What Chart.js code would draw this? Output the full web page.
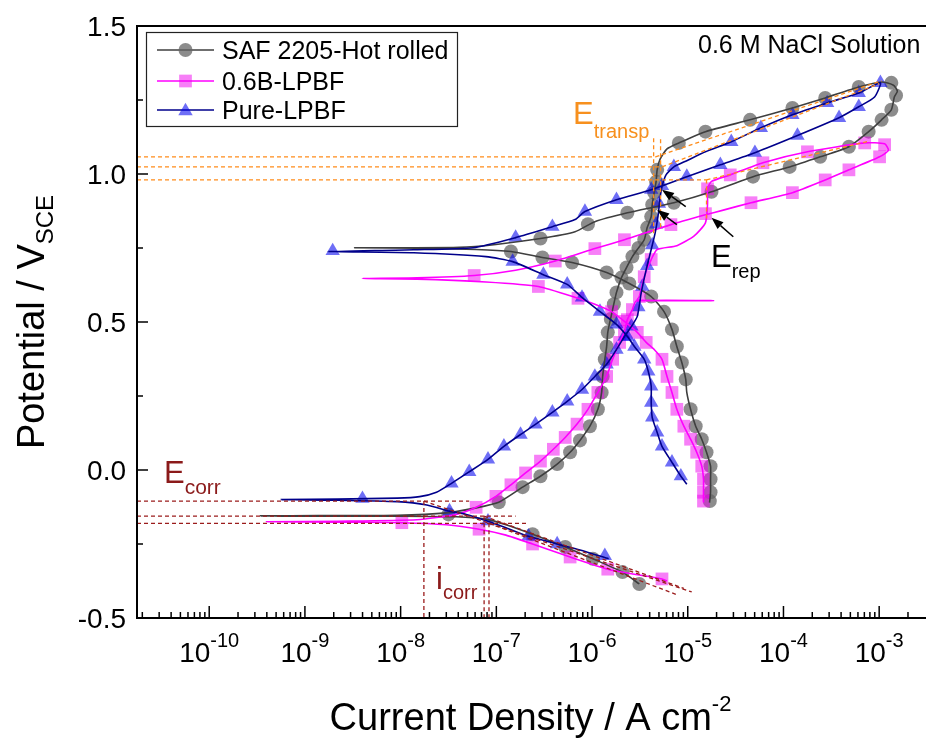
<!DOCTYPE html>
<html>
<head>
<meta charset="utf-8">
<script src="https://cdn.jsdelivr.net/npm/chart.js@4.4.1/dist/chart.umd.min.js"></script>
<style>
  html, body { margin: 0; padding: 0; background: #ffffff; }
  canvas { display: block; }
</style>
</head>
<body>
<canvas id="chart" width="933" height="738"></canvas>
<script>
// ---------- axes ----------
const xRange = [1.76e-11, 2.94e-3];          // current density, A cm^-2 (log)
const yRange = [-0.5, 1.5];                  // potential, V vs SCE
const xTickExps = [-10, -9, -8, -7, -6, -5, -4, -3];
const yTicks = [-0.5, 0.0, 0.5, 1.0, 1.5];

const seriesNames = ['SAF 2205-Hot rolled', '0.6B-LPBF', 'Pure-LPBF'];

// ---------- SAF 2205 hot rolled (cyclic scan path) ----------
const hotI = [3.12e-6, 2.08e-6, 1.02e-6, 5.24e-7, 2.39e-7, 1.26e-7, 7.8e-8, 3.83e-8, 9.2e-9, 1.37e-9, 3.44e-10,
  1.37e-9, 9.2e-9, 3.01e-8, 6.15e-8, 1.06e-7, 1.88e-7, 2.89e-7, 4.32e-7, 5.9e-7, 7.48e-7, 9.5e-7, 1.15e-6, 1.26e-6,
  1.29e-6, 1.36e-6, 1.42e-6, 1.46e-6, 1.53e-6, 1.64e-6, 1.80e-6, 2.03e-6, 2.29e-6, 2.64e-6, 2.97e-6, 3.51e-6, 3.77e-6,
  4.15e-6, 4.25e-6, 4.46e-6, 4.67e-6, 4.79e-6, 5.14e-6, 6.07e-6, 8.07e-6, 1.53e-5, 4.48e-5, 1.24e-4, 2.73e-4, 6.12e-4,
  1.06e-3, 1.41e-3, 1.55e-3,
  1.44e-3, 1.34e-3, 1.06e-3, 7.76e-4, 4.83e-4, 2.42e-4, 1.16e-4, 4.81e-5, 1.77e-5, 7.16e-6, 2.34e-6, 1.07e-6, 6.64e-7,
  2.89e-7, 9.9e-8, 4.11e-8, 9.2e-9, 3.31e-9,
  1.48e-8, 6.15e-8, 1.42e-7, 3.03e-7, 6.18e-7, 1.42e-6, 2.45e-6, 4.15e-6, 5.65e-6, 6.84e-6, 7.69e-6, 8.67e-6, 9.53e-6,
  9.77e-6, 1.07e-5, 1.21e-5, 1.40e-5, 1.57e-5, 1.73e-5, 1.73e-5, 1.73e-5, 1.69e-5];
const hotE = [-0.385, -0.345, -0.300, -0.260, -0.217, -0.185, -0.166, -0.158, -0.156, -0.156, -0.155,
  -0.154, -0.153, -0.145, -0.128, -0.109, -0.058, -0.021, 0.020, 0.060, 0.100, 0.148, 0.205, 0.262,
  0.316, 0.374, 0.417, 0.465, 0.498, 0.542, 0.600, 0.650, 0.684, 0.721, 0.745, 0.778, 0.819,
  0.856, 0.896, 0.937, 0.974, 1.014, 1.050, 1.085, 1.105, 1.143, 1.183, 1.223, 1.257, 1.294,
  1.311, 1.300, 1.280,
  1.260, 1.217, 1.183, 1.143, 1.092, 1.058, 1.024, 0.991, 0.940, 0.903, 0.869, 0.839, 0.805,
  0.782, 0.762, 0.752, 0.751, 0.751,
  0.749, 0.745, 0.738, 0.718, 0.701, 0.667, 0.630, 0.586, 0.535, 0.475, 0.417, 0.363, 0.306,
  0.262, 0.205, 0.148, 0.104, 0.060, 0.013, -0.031, -0.075, -0.110];
const hotMarkI = [3.12e-6, 2.08e-6, 1.02e-6, 5.24e-7, 2.39e-7, 3.16e-8,
  1.06e-7, 1.88e-7, 2.89e-7, 4.32e-7, 5.9e-7, 7.48e-7, 9.5e-7, 1.15e-6, 1.26e-6, 1.29e-6, 1.36e-6, 1.42e-6, 1.46e-6,
  1.57e-6, 1.69e-6, 1.80e-6, 2.03e-6, 2.29e-6, 2.64e-6, 3.05e-6, 3.51e-6, 3.77e-6, 4.15e-6, 4.25e-6, 4.46e-6, 4.67e-6, 4.79e-6,
  8.07e-6, 1.53e-5, 4.48e-5, 1.24e-4, 2.73e-4, 6.12e-4, 1.34e-3, 1.50e-3,
  1.34e-3, 1.06e-3, 7.76e-4, 4.83e-4, 2.42e-4, 1.16e-4, 4.81e-5, 1.77e-5, 7.16e-6, 2.34e-6, 9.06e-7, 2.89e-7,
  1.42e-7, 3.03e-7, 6.18e-7, 1.42e-6, 2.45e-6, 4.15e-6, 5.65e-6, 6.84e-6, 7.69e-6, 8.67e-6, 9.53e-6, 1.07e-5,
  1.21e-5, 1.40e-5, 1.57e-5, 1.73e-5, 1.73e-5, 1.73e-5, 1.70e-5];
const hotMarkE = [-0.385, -0.345, -0.300, -0.260, -0.217, -0.150,
  -0.109, -0.058, -0.021, 0.020, 0.060, 0.100, 0.148, 0.205, 0.262, 0.316, 0.374, 0.417, 0.465,
  0.510, 0.560, 0.600, 0.650, 0.684, 0.721, 0.750, 0.778, 0.819, 0.856, 0.896, 0.937, 0.974, 1.014,
  1.105, 1.143, 1.183, 1.223, 1.257, 1.294, 1.308, 1.265,
  1.217, 1.183, 1.143, 1.092, 1.058, 1.024, 0.991, 0.940, 0.903, 0.869, 0.830, 0.782,
  0.738, 0.718, 0.701, 0.667, 0.630, 0.586, 0.535, 0.475, 0.417, 0.363, 0.306, 0.205,
  0.148, 0.104, 0.060, 0.013, -0.031, -0.075, -0.105];

// ---------- 0.6B-LPBF ----------
const borI = [6.07e-6, 5.38e-6, 2.77e-6, 1.46e-6, 5.9e-7, 2.39e-7, 1.26e-7, 6.6e-8, 3.01e-8, 1.03e-8, 2.2e-9, 3.97e-10,
  2.2e-9, 1.48e-8, 3.83e-8, 6.15e-8, 9.9e-8, 1.42e-7, 2.02e-7, 2.89e-7, 3.94e-7, 5.24e-7, 6.97e-7, 9.06e-7, 1.15e-6,
  1.42e-6, 1.64e-6, 1.94e-6, 2.18e-6, 2.34e-6, 2.64e-6, 2.90e-6, 1.86e-5, 2.97e-6, 3.12e-6, 3.51e-6, 4.15e-6, 4.79e-6,
  7.69e-6, 1.16e-5, 1.53e-5, 1.61e-5, 1.61e-5, 1.77e-5, 2.78e-5, 6.10e-5, 1.78e-4, 7.06e-4, 1.14e-3, 1.25e-3,
  1.01e-3, 4.83e-4, 2.73e-4, 1.24e-4, 4.58e-5, 2.35e-5, 1.53e-5, 6.67e-6, 2.18e-6, 1.07e-6, 4.13e-7, 1.59e-7, 5.87e-8,
  1.48e-8, 3.99e-9,
  1.48e-8, 7.8e-8, 2.75e-7, 7.13e-7, 1.07e-6, 1.60e-6, 2.18e-6, 2.97e-6, 3.68e-6, 4.46e-6, 5.38e-6, 6.07e-6, 6.84e-6,
  7.69e-6, 9.1e-6, 1.07e-5, 1.24e-5, 1.40e-5, 1.46e-5, 1.46e-5, 1.46e-5];
const borE = [-0.375, -0.368, -0.352, -0.335, -0.294, -0.250, -0.220, -0.200, -0.185, -0.178, -0.176, -0.175,
  -0.173, -0.168, -0.150, -0.126, -0.089, -0.050, -0.010, 0.030, 0.070, 0.110, 0.155, 0.205, 0.262,
  0.316, 0.374, 0.431, 0.468, 0.508, 0.542, 0.571, 0.572, 0.574, 0.586, 0.653, 0.711, 0.745,
  0.758, 0.790, 0.835, 0.900, 0.950, 0.975, 0.997, 1.038, 1.075, 1.105, 1.102, 1.080,
  1.058, 1.014, 0.980, 0.937, 0.903, 0.878, 0.862, 0.829, 0.778, 0.748, 0.706, 0.675, 0.657,
  0.649, 0.647,
  0.645, 0.635, 0.620, 0.580, 0.560, 0.535, 0.502, 0.465, 0.431, 0.407, 0.374, 0.316, 0.262,
  0.205, 0.148, 0.104, 0.060, 0.013, -0.031, -0.075, -0.110];
const borMarkI = [5.38e-6, 1.46e-6, 5.9e-7, 2.39e-7, 6.6e-8, 1.03e-8,
  6.15e-8, 9.9e-8, 1.42e-7, 2.02e-7, 2.89e-7, 3.94e-7, 5.24e-7, 6.97e-7, 9.06e-7, 1.15e-6, 1.42e-6, 1.64e-6, 1.94e-6,
  2.18e-6, 2.34e-6, 2.64e-6, 3.12e-6, 3.51e-6, 4.15e-6,
  1.61e-5, 2.78e-5, 6.10e-5, 1.78e-4, 7.06e-4, 1.14e-3,
  1.01e-3, 4.83e-4, 2.73e-4, 1.24e-4, 4.58e-5, 1.53e-5, 6.67e-6, 2.18e-6, 1.07e-6, 4.13e-7, 5.87e-8,
  2.75e-7, 7.13e-7, 1.60e-6, 2.18e-6, 2.97e-6, 3.68e-6, 5.38e-6, 6.07e-6, 6.84e-6, 7.69e-6, 9.1e-6, 1.07e-5,
  1.24e-5, 1.40e-5, 1.46e-5, 1.46e-5, 1.46e-5];
const borMarkE = [-0.368, -0.335, -0.294, -0.250, -0.200, -0.178,
  -0.126, -0.089, -0.050, -0.010, 0.030, 0.070, 0.110, 0.155, 0.205, 0.262, 0.316, 0.374, 0.431,
  0.468, 0.508, 0.542, 0.586, 0.653, 0.711,
  0.950, 0.997, 1.038, 1.075, 1.105, 1.099,
  1.058, 1.014, 0.980, 0.937, 0.903, 0.866, 0.829, 0.778, 0.748, 0.706, 0.657,
  0.620, 0.580, 0.535, 0.502, 0.465, 0.431, 0.374, 0.316, 0.262, 0.205, 0.148, 0.104,
  0.060, 0.013, -0.031, -0.075, -0.105];

// ---------- Pure-LPBF ----------
const pureI = [1.49e-6, 7.48e-7, 4.32e-7, 2.17e-7, 1.26e-7, 8.18e-8, 4.85e-8, 3.24e-8, 1.88e-8, 9.2e-9, 2.2e-9, 5.67e-10,
  2.2e-9, 9.2e-9, 1.58e-8, 2.37e-8, 3.40e-8, 5.21e-8, 8.18e-8, 1.20e-7, 1.79e-7, 2.56e-7, 3.85e-7, 5.50e-7, 7.85e-7,
  1.07e-6, 1.42e-6, 1.80e-6, 2.18e-6, 2.58e-6, 2.97e-6, 3.27e-6, 3.68e-6, 4.15e-6, 4.56e-6, 4.90e-6, 5.14e-6, 5.38e-6,
  5.93e-6, 7.16e-6, 9.77e-6, 1.53e-5, 2.85e-5, 5.81e-5, 1.24e-4, 2.86e-4, 6.12e-4, 1.03e-3,
  8.95e-4, 6.12e-4, 3.81e-4, 1.40e-4, 5.03e-5, 2.19e-5, 9.77e-6, 4.15e-6, 1.80e-6, 8.43e-7, 6.64e-7, 3.85e-7, 1.59e-7,
  5.73e-8, 1.37e-8, 1.74e-9,
  1.37e-8, 7.8e-8, 1.48e-7, 3.10e-7, 5.50e-7, 7.85e-7, 1.21e-6, 1.80e-6, 2.34e-6, 2.77e-6, 3.51e-6, 3.87e-6, 4.15e-6,
  4.15e-6, 4.25e-6, 4.79e-6, 5.38e-6, 6.84e-6, 8.47e-6, 9.77e-6];
const pureE = [-0.300, -0.270, -0.250, -0.224, -0.195, -0.173, -0.150, -0.139, -0.118, -0.107, -0.102, -0.100,
  -0.098, -0.095, -0.090, -0.075, -0.045, -0.006, 0.036, 0.080, 0.120, 0.154, 0.195, 0.232, 0.272,
  0.316, 0.357, 0.407, 0.451, 0.485, 0.519, 0.600, 0.677, 0.745, 0.800, 0.860, 0.920, 0.957,
  0.997, 1.024, 1.045, 1.075, 1.109, 1.156, 1.200, 1.240, 1.274, 1.308,
  1.260, 1.227, 1.190, 1.130, 1.072, 1.031, 0.991, 0.947, 0.913, 0.873, 0.846, 0.822, 0.785,
  0.751, 0.744, 0.738,
  0.734, 0.721, 0.704, 0.660, 0.627, 0.583, 0.535, 0.492, 0.451, 0.417, 0.374, 0.333, 0.283,
  0.228, 0.178, 0.127, 0.080, 0.026, -0.021, -0.048];
const pureMarkI = [1.36e-6, 4.32e-7, 2.17e-7, 8.18e-8, 3.24e-8, 3.99e-9,
  3.40e-8, 5.21e-8, 8.18e-8, 1.20e-7, 1.79e-7, 2.56e-7, 3.85e-7, 5.50e-7, 7.85e-7, 1.07e-6, 1.42e-6, 1.80e-6, 2.18e-6, 2.58e-6,
  3.05e-6, 3.35e-6, 3.77e-6, 4.25e-6, 4.67e-6, 5.0e-6, 5.38e-6,
  7.16e-6, 2.85e-5, 5.81e-5, 1.24e-4, 2.86e-4, 6.12e-4, 1.03e-3,
  6.12e-4, 3.81e-4, 1.40e-4, 5.03e-5, 2.19e-5, 9.77e-6, 4.15e-6, 1.80e-6, 8.43e-7, 3.85e-7, 1.59e-7, 1.95e-9,
  1.48e-7, 3.10e-7, 5.50e-7, 7.85e-7, 1.21e-6, 1.80e-6, 2.34e-6, 2.77e-6, 3.51e-6, 3.87e-6, 4.15e-6, 4.15e-6,
  4.25e-6, 4.79e-6, 5.38e-6, 6.84e-6, 8.47e-6];
const pureMarkE = [-0.290, -0.250, -0.224, -0.173, -0.139, -0.097,
  -0.045, -0.006, 0.036, 0.080, 0.120, 0.154, 0.195, 0.232, 0.272, 0.316, 0.357, 0.407, 0.451, 0.485,
  0.550, 0.620, 0.690, 0.760, 0.830, 0.900, 0.960,
  1.024, 1.109, 1.156, 1.200, 1.240, 1.274, 1.308,
  1.227, 1.190, 1.130, 1.072, 1.031, 0.991, 0.947, 0.913, 0.873, 0.822, 0.785, 0.740,
  0.704, 0.660, 0.627, 0.583, 0.535, 0.492, 0.451, 0.417, 0.374, 0.333, 0.283, 0.228,
  0.178, 0.127, 0.080, 0.026, -0.021];

// ---------- Tafel / E_corr construction (order: hot rolled, 0.6B, pure) ----------
const ecorrLevels = [-0.156, -0.180, -0.105];
const icorrValues = [7.45e-8, 8.38e-8, 1.75e-8];
const ecorrGuideEnd = [1.59e-7, 2.17e-7, 5.2e-8];
const tafelEndI = [9.1e-6, 7.5e-6, 1.10e-5];
const tafelEndE = [-0.400, -0.420, -0.412];

// ---------- E_transp construction ----------
const etranspLevels = [1.058, 0.980, 1.024];
const etranspKneeI = [4.6e-6, 1.57e-5, 5.4e-6];
const transpEndI = [1.06e-3, 7.6e-4, 1.0e-3];
const transpEndE = [1.315, 1.110, 1.305];
const passiveGuideI = [4.4e-6, 1.57e-5, 5.2e-6];
const passiveGuideLo = [0.80, 0.85, 0.82];
const passiveGuideHi = [1.13, 0.99, 1.12];

// ---------- E_rep arrows ----------
const erepTipI = [4.79e-6, 1.77e-5, 5.38e-6];
const erepTipE = [0.879, 0.852, 0.947];
const erepTailI = [7.69e-6, 2.99e-5, 9.53e-6];
const erepTailE = [0.829, 0.788, 0.890];

// ---------- building datasets ----------
const FONT = '"Liberation Sans", Arial, Helvetica, sans-serif';
const pts = (xs, ys) => xs.map((v, i) => ({ x: v, y: ys[i] }));
const seg = (x0, y0, x1, y1) => [{ x: x0, y: y0 }, { x: x1, y: y1 }];

const styles = [
  { line: '#3f3f3f', fill: 'rgba(100,100,100,0.74)', shape: 'circle', r: 7 },
  { line: '#ff00ff', fill: 'rgba(240,0,240,0.5)', shape: 'rect', r: 9 },
  { line: '#00008b', fill: 'rgba(0,0,240,0.57)', shape: 'triangle', r: 8.3 }
];

const paths = [[hotI, hotE], [borI, borE], [pureI, pureE]];
const marks = [[hotMarkI, hotMarkE], [borMarkI, borMarkE], [pureMarkI, pureMarkE]];

const datasets = [];
// symbols underneath, connecting lines above them
[0, 1, 2].forEach(k => {
  datasets.push({
    label: seriesNames[k] + ' symbols',
    data: pts(marks[k][0], marks[k][1]),
    showLine: false,
    pointStyle: styles[k].shape,
    pointRadius: styles[k].r,
    pointBackgroundColor: styles[k].fill,
    pointBorderWidth: 0,
    pointBorderColor: 'rgba(0,0,0,0)',
    order: 9 - k
  });
});
[0, 1, 2].forEach(k => {
  datasets.push({
    label: seriesNames[k],
    data: pts(paths[k][0], paths[k][1]),
    showLine: true,
    borderColor: styles[k].line,
    borderWidth: 1.6,
    pointRadius: 0,
    tension: 0.2,
    fill: false,
    order: 6 - k
  });
});

const guide = (data, color) => ({
  data, showLine: true, borderColor: color, borderWidth: 1.3, borderDash: [4, 3],
  pointRadius: 0, tension: 0, fill: false, order: 0
});
const BROWN = '#9b1c1c';
const ORANGE = '#ff8c1a';
[0, 1, 2].forEach(k => {
  datasets.push(guide(seg(xRange[0], ecorrLevels[k], ecorrGuideEnd[k], ecorrLevels[k]), BROWN));
  datasets.push(guide(seg(icorrValues[k], ecorrLevels[k], icorrValues[k], yRange[0]), BROWN));
  datasets.push(guide(seg(icorrValues[k], ecorrLevels[k], tafelEndI[k], tafelEndE[k]), BROWN));
  datasets.push(guide(seg(xRange[0], etranspLevels[k], etranspKneeI[k], etranspLevels[k]), ORANGE));
  datasets.push(guide(seg(passiveGuideI[k], passiveGuideLo[k], passiveGuideI[k], passiveGuideHi[k]), ORANGE));
  datasets.push(guide(seg(etranspKneeI[k], etranspLevels[k], transpEndI[k], transpEndE[k]), ORANGE));
});

// ---------- drawing helpers ----------
function richText(ctx, parts, x, y, align) {
  let total = 0;
  parts.forEach(p => {
    ctx.font = p.size + 'px ' + FONT;
    p.w = ctx.measureText(p.t).width;
    total += p.w;
  });
  let cx = align === 'center' ? x - total / 2 : (align === 'right' ? x - total : x);
  ctx.textAlign = 'left';
  ctx.textBaseline = 'alphabetic';
  parts.forEach(p => {
    ctx.font = p.size + 'px ' + FONT;
    ctx.fillText(p.t, cx, y + (p.dy || 0));
    cx += p.w;
  });
}

function drawMarker(ctx, shape, x, y, r) {
  ctx.beginPath();
  if (shape === 'circle') {
    ctx.arc(x, y, r, 0, Math.PI * 2);
  } else if (shape === 'rect') {
    const s = r * Math.SQRT1_2;
    ctx.rect(x - s, y - s, 2 * s, 2 * s);
  } else {
    ctx.moveTo(x, y - r);
    ctx.lineTo(x + r * 0.866, y + r / 2);
    ctx.lineTo(x - r * 0.866, y + r / 2);
    ctx.closePath();
  }
  ctx.fill();
}

const decor = {
  id: 'decor',
  afterDraw(chart) {
    const { ctx, chartArea: a, scales: { x, y } } = chart;
    ctx.save();

    // frame
    ctx.strokeStyle = '#000';
    ctx.lineWidth = 2;
    ctx.beginPath();
    ctx.moveTo(a.right + 2, a.top);
    ctx.lineTo(a.left, a.top);
    ctx.lineTo(a.left, a.bottom);
    ctx.lineTo(a.right + 2, a.bottom);
    ctx.stroke();

    // inward ticks
    ctx.lineWidth = 1.5;
    const tick = (x0, y0, x1, y1) => { ctx.beginPath(); ctx.moveTo(x0, y0); ctx.lineTo(x1, y1); ctx.stroke(); };
    yTicks.forEach((v, i) => {
      const py = y.getPixelForValue(v);
      tick(a.left, py, a.left + 11, py);
      if (i < yTicks.length - 1) {
        const pm = y.getPixelForValue((v + yTicks[i + 1]) / 2);
        tick(a.left, pm, a.left + 6, pm);
      }
    });
    const n0 = Math.floor(Math.log10(xRange[0])), n1 = Math.ceil(Math.log10(xRange[1]));
    for (let n = n0; n <= n1; n++) {
      for (let k = 1; k <= 9; k++) {
        const v = k * Math.pow(10, n);
        if (v < xRange[0] || v > xRange[1]) continue;
        const px = x.getPixelForValue(v);
        tick(px, a.bottom, px, a.bottom - (k === 1 ? 12 : 6));
      }
    }

    // tick labels
    ctx.fillStyle = '#000';
    yTicks.forEach(v => {
      const py = y.getPixelForValue(v);
      richText(ctx, [{ t: v.toFixed(1), size: 28 }], a.left - 11, py + 10, 'right');
    });
    xTickExps.forEach(e => {
      const px = x.getPixelForValue(Math.pow(10, e));
      richText(ctx, [{ t: '10', size: 28 }, { t: String(e), size: 20, dy: -15 }], px, a.bottom + 44, 'center');
    });

    // axis titles
    richText(ctx, [{ t: 'Current Density / A cm', size: 38 }, { t: '-2', size: 22, dy: -19 }],
      (a.left + a.right) / 2, 730, 'center');
    ctx.save();
    ctx.translate(44, (a.top + a.bottom) / 2);
    ctx.rotate(-Math.PI / 2);
    richText(ctx, [{ t: 'Potential / V', size: 38 }, { t: 'SCE', size: 24, dy: 9 }], 0, 0, 'center');
    ctx.restore();

    // legend
    ctx.fillStyle = '#fff';
    ctx.fillRect(146.5, 32.5, 311, 94);
    ctx.strokeStyle = '#222';
    ctx.lineWidth = 1.2;
    ctx.strokeRect(146.5, 32.5, 311, 94);
    const rows = [50, 81, 110];
    [0, 1, 2].forEach(k => {
      const ry = rows[k];
      ctx.strokeStyle = styles[k].line;
      ctx.lineWidth = 1.6;
      ctx.beginPath(); ctx.moveTo(157, ry); ctx.lineTo(214, ry); ctx.stroke();
      ctx.fillStyle = styles[k].fill;
      drawMarker(ctx, styles[k].shape, 185.5, ry + (styles[k].shape === 'triangle' ? 1 : 0), styles[k].r);
      ctx.fillStyle = '#000';
      richText(ctx, [{ t: seriesNames[k], size: 25 }], 222, ry + 9, 'left');
    });

    // solution label
    ctx.fillStyle = '#000';
    richText(ctx, [{ t: '0.6 M NaCl Solution', size: 25 }], 698, 53, 'left');

    // E_rep arrows
    ctx.strokeStyle = '#000';
    ctx.fillStyle = '#000';
    ctx.lineWidth = 1.5;
    erepTipI.forEach((ti, k) => {
      const x1 = x.getPixelForValue(ti), y1 = y.getPixelForValue(erepTipE[k]);
      const x0 = x.getPixelForValue(erepTailI[k]), y0 = y.getPixelForValue(erepTailE[k]);
      const ang = Math.atan2(y1 - y0, x1 - x0);
      const hl = 12, hw = 4.5;
      const bx = x1 - hl * Math.cos(ang), by = y1 - hl * Math.sin(ang);
      ctx.beginPath(); ctx.moveTo(x0, y0); ctx.lineTo(bx, by); ctx.stroke();
      ctx.beginPath();
      ctx.moveTo(x1, y1);
      ctx.lineTo(bx + hw * Math.sin(ang), by - hw * Math.cos(ang));
      ctx.lineTo(bx - hw * Math.sin(ang), by + hw * Math.cos(ang));
      ctx.closePath();
      ctx.fill();
    });

    // annotation labels
    ctx.fillStyle = '#000';
    richText(ctx, [{ t: 'E', size: 31 }, { t: 'rep', size: 20, dy: 11 }], 711, 267, 'left');
    ctx.fillStyle = '#f7901e';
    richText(ctx, [{ t: 'E', size: 31 }, { t: 'transp', size: 20, dy: 14 }], 573, 124, 'left');
    ctx.fillStyle = '#8b1a1a';
    richText(ctx, [{ t: 'E', size: 31 }, { t: 'corr', size: 21, dy: 11 }], 164, 483, 'left');
    richText(ctx, [{ t: 'i', size: 31 }, { t: 'corr', size: 20, dy: 10 }], 436, 589, 'left');

    ctx.restore();
  }
};

new Chart(document.getElementById('chart'), {
  type: 'scatter',
  data: { datasets },
  options: {
    responsive: false,
    animation: false,
    devicePixelRatio: 1,
    events: [],
    layout: { padding: { left: 137, right: 0, top: 26, bottom: 120 } },
    scales: {
      x: { type: 'logarithmic', min: xRange[0], max: xRange[1], display: false },
      y: { type: 'linear', min: yRange[0], max: yRange[1], display: false }
    },
    plugins: { legend: { display: false }, tooltip: { enabled: false } }
  },
  plugins: [decor]
});
</script>
</body>
</html>
